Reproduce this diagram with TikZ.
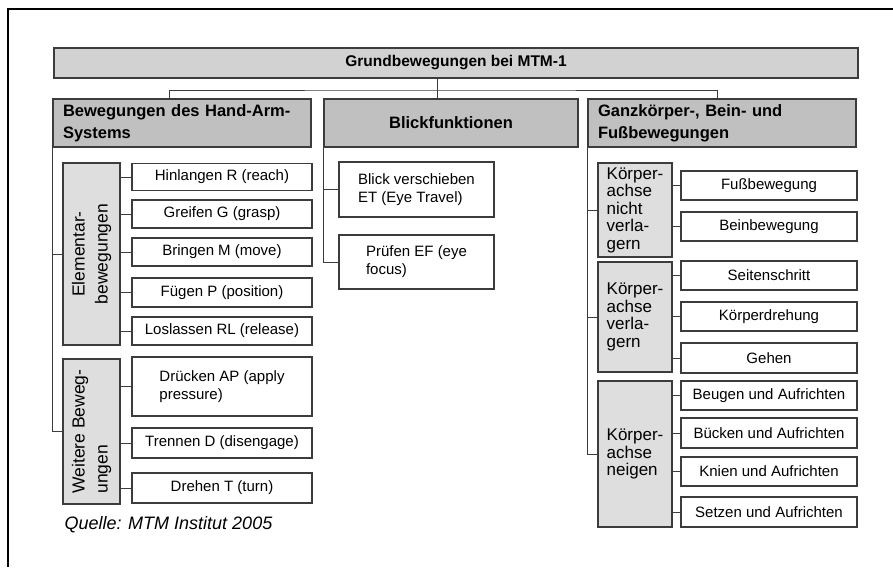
\documentclass[tikz,border=0pt]{standalone}
\usepackage{fontspec}
\setmainfont{Liberation Sans}
\usepackage{color}
\usetikzlibrary{calc,positioning}

\definecolor{titlegray}{RGB}{210,210,210}
\definecolor{headgray}{RGB}{192,192,192}
\definecolor{groupgray}{RGB}{222,222,222}
\definecolor{linegray}{RGB}{60,60,60}

\begin{document}
\begin{tikzpicture}[
    x=1pt, y=-1pt,
    box/.style={draw=linegray, line width=1.2pt, inner sep=0pt},
    titlebox/.style={box, fill=titlegray, minimum width=804pt, minimum height=30pt,
      font=\fontsize{15.5}{18}\selectfont\bfseries},
    headbox/.style={box, fill=headgray, minimum height=48pt, inner xsep=10pt,
      font=\fontsize{16.5}{22}\selectfont\bfseries},
    groupbox/.style={box, fill=groupgray, font=\fontsize{17}{17.5}\selectfont},
    sidebox/.style={groupbox, rotate=90, minimum height=57pt,
      font=\fontsize{17.5}{23}\selectfont},
    itembox/.style={box, fill=white, font=\fontsize{15}{18}\selectfont},
    edge/.style={draw=linegray, line width=0.9pt}]

    \useasboundingbox (0,0) rectangle (893,567);

    % frame
    \draw[line width=2pt] (893,9) -| (8,567);

    % vertices

    \node[titlebox] (0) at (456,63) {Grundbewegungen bei MTM-1};

    \node[headbox, text width=238pt, align=left] (1) at (182,123)
      {Bewegungen des Hand-Arm-\\Systems};
    \node[headbox, text width=234pt, align=center] (2) at (451,123)
      {Blickfunktionen};
    \node[headbox, text width=248pt, align=left] (3) at (722,123)
      {Ganzkörper-, Bein- und\\Fußbewegungen};

    % rotated: north = left side, south = right side
    \node[sidebox, minimum width=182pt, align=center] (10) at (91.5,254)
      {Elementar-\\bewegungen};
    \node[sidebox, minimum width=145pt, align=left] (11) at (91.5,431.5)
      {Weitere Beweg-\\ungen};

    \node[itembox, minimum width=180pt, minimum height=27pt] (100) at (222,177) {Hinlangen R (reach)};
    \node[itembox, minimum width=180pt, minimum height=28pt] (101) at (222,214) {Greifen G (grasp)};
    \node[itembox, minimum width=180pt, minimum height=28pt] (102) at (222,252) {Bringen M (move)};
    \node[itembox, minimum width=180pt, minimum height=29pt] (103) at (222,292.5) {Fügen P (position)};
    \node[itembox, minimum width=180pt, minimum height=28pt] (104) at (222,331) {Loslassen RL (release)};
    \node[itembox, minimum width=180pt, minimum height=59pt, align=left] (110) at (222,386.5)
      {Drücken AP (apply\\pressure)};
    \node[itembox, minimum width=180pt, minimum height=30pt] (111) at (222,443) {Trennen D (disengage)};
    \node[itembox, minimum width=180pt, minimum height=30pt] (112) at (222,488) {Drehen T (turn)};

    \node[itembox, minimum width=155pt, minimum height=55pt, align=left] (200) at (416.5,189.5)
      {Blick verschieben\\ET (Eye Travel)};
    \node[itembox, minimum width=155pt, minimum height=54pt, align=left] (201) at (416.5,262)
      {Prüfen EF (eye\\focus)};

    \node[groupbox, minimum width=74pt, minimum height=94pt, align=left] (30) at (635,210)
      {Körper-\\achse\\nicht\\verla-\\gern};
    \node[groupbox, minimum width=74pt, minimum height=110pt, align=left] (31) at (635,317)
      {Körper-\\achse\\verla-\\gern};
    \node[groupbox, minimum width=74pt, minimum height=146pt, align=left] (32) at (635,454)
      {Körper-\\achse\\neigen};

    \node[itembox, minimum width=176pt, minimum height=29pt] (300) at (769,185.5) {Fußbewegung};
    \node[itembox, minimum width=176pt, minimum height=29pt] (301) at (769,226.5) {Beinbewegung};
    \node[itembox, minimum width=176pt, minimum height=29pt] (310) at (769,275.5) {Seitenschritt};
    \node[itembox, minimum width=176pt, minimum height=29pt] (311) at (769,316.5) {Körperdrehung};
    \node[itembox, minimum width=176pt, minimum height=30pt] (312) at (769,358) {Gehen};
    \node[itembox, minimum width=176pt, minimum height=29pt] (320) at (769,395.5) {Beugen und Aufrichten};
    \node[itembox, minimum width=176pt, minimum height=30pt] (321) at (769,433) {Bücken und Aufrichten};
    \node[itembox, minimum width=176pt, minimum height=29pt] (322) at (769,471.5) {Knien und Aufrichten};
    \node[itembox, minimum width=176pt, minimum height=30pt] (323) at (769,512) {Setzen und Aufrichten};

    \node[anchor=base west, font=\fontsize{18}{20}\selectfont\itshape] (q) at (61,529)
      {Quelle: MTM Institut 2005};

    % edges

    \coordinate (j) at (437,90);
    \draw[edge] (0.south -| j) -- (2.north -| j);
    \draw[edge] ([xshift=-13pt]1.north) |- (j) -| ([xshift=-5pt]3.north);

    \draw[edge] (1.south west) |- (10.north);
    \draw[edge] (1.south west) |- (11.north);
    \draw[edge] (10.south |- 100.west) -- (100.west);
    \draw[edge] (10.south |- 101.west) -- (101.west);
    \draw[edge] (10.south |- 102.west) -- (102.west);
    \draw[edge] (10.south |- 103.west) -- (103.west);
    \draw[edge] (10.south |- 104.west) -- (104.west);
    \draw[edge] (11.south |- 110.west) -- (110.west);
    \draw[edge] (11.south |- 111.west) -- (111.west);
    \draw[edge] (11.south |- 112.west) -- (112.west);

    \draw[edge] (2.south west) |- (200.west);
    \draw[edge] (2.south west) |- (201.west);

    \draw[edge] (3.south west) |- (30.west);
    \draw[edge] (3.south west) |- (31.west);
    \draw[edge] (3.south west) |- (32.west);
    \draw[edge] (30.east |- 300.west) -- (300.west);
    \draw[edge] (30.east |- 301.west) -- (301.west);
    \draw[edge] (31.east |- 310.west) -- (310.west);
    \draw[edge] (31.east |- 311.west) -- (311.west);
    \draw[edge] (31.east |- 312.west) -- (312.west);
    \draw[edge] (32.east |- 320.west) -- (320.west);
    \draw[edge] (32.east |- 321.west) -- (321.west);
    \draw[edge] (32.east |- 322.west) -- (322.west);
    \draw[edge] (32.east |- 323.west) -- (323.west);
  \end{tikzpicture}
\end{document}
